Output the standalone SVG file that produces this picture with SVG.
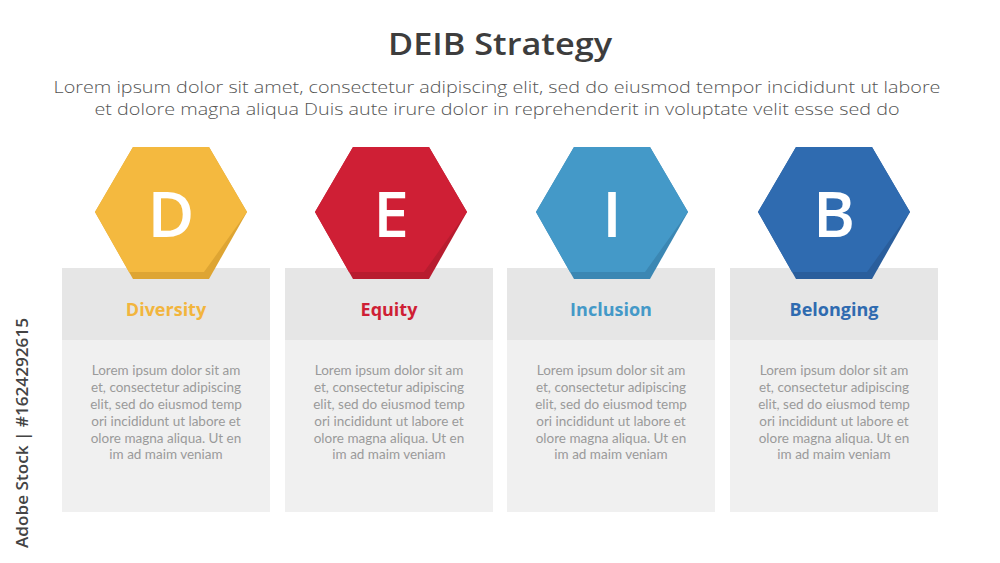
<svg xmlns="http://www.w3.org/2000/svg" width="1000" height="563" viewBox="0 0 1000 563">
<style>
.title{font-family:"Open Sans","Liberation Sans",sans-serif;font-weight:600;font-size:30px;fill:#3d3d3d;text-anchor:middle}
.sub{font-family:"Open Sans","Liberation Sans",sans-serif;font-weight:300;font-size:17px;fill:#555555;text-anchor:middle}
.letter{font-family:"Open Sans","Liberation Sans",sans-serif;font-weight:600;font-size:64px;fill:#ffffff;text-anchor:middle}
.head{font-family:"Open Sans","Liberation Sans",sans-serif;font-weight:700;font-size:18px;text-anchor:middle}
.body{font-family:Lato,"Liberation Sans",sans-serif;font-weight:400;font-size:13.5px;fill:#9a9a9a;text-anchor:middle}
.hb{fill:#e6e6e6}
.bb{fill:#f0f0f0}
.wm{font-family:"Open Sans","Liberation Sans",sans-serif;font-size:16px;fill:#444;font-weight:600}
</style>
<defs>
<polygon id="hexS" points="-38,-66 38,-66 76,-1 38,66 -38,66 -76,-1"/>
<polygon id="hexF" points="-38,-66 38,-66 76,-1 33,59 -42,59 -76,-1"/>
</defs>
<rect width="1000" height="563" fill="#ffffff"/>
<text class="title" x="500" y="55" textLength="224" lengthAdjust="spacingAndGlyphs">DEIB Strategy</text>
<text class="sub" x="497" y="93" textLength="887" lengthAdjust="spacingAndGlyphs">Lorem ipsum dolor sit amet, consectetur adipiscing elit, sed do eiusmod tempor incididunt ut labore</text>
<text class="sub" x="497" y="115" textLength="805" lengthAdjust="spacingAndGlyphs">et dolore magna aliqua Duis aute irure dolor in reprehenderit in voluptate velit esse sed do</text>
<text class="wm" transform="translate(28,548) rotate(-90)" textLength="230" lengthAdjust="spacingAndGlyphs">Adobe Stock | #1624292615</text>
<g id="connectors"></g>
<g id="node-d">
<rect class="bb" x="62" y="268" width="208" height="244"/>
<rect class="hb" x="62" y="268" width="208" height="72"/>
<g transform="translate(171,213)"><use href="#hexS" fill="#dea533"/><use href="#hexF" fill="#f4b93f"/></g>
<text class="letter" x="171" y="237">D</text>
<text class="head" x="166" y="316" fill="#f2b53d">Diversity</text>
<text class="body" x="166" y="375">Lorem ipsum dolor sit am</text>
<text class="body" x="166" y="392">et, consectetur adipiscing</text>
<text class="body" x="166" y="409">elit, sed do eiusmod temp</text>
<text class="body" x="166" y="426">ori incididunt ut labore et</text>
<text class="body" x="166" y="443">olore magna aliqua. Ut en</text>
<text class="body" x="166" y="459">im ad maim veniam</text>
</g>
<g id="node-e">
<rect class="bb" x="285" y="268" width="208" height="244"/>
<rect class="hb" x="285" y="268" width="208" height="72"/>
<g transform="translate(391,213)"><use href="#hexS" fill="#b81c2f"/><use href="#hexF" fill="#cf1f35"/></g>
<text class="letter" x="391" y="237">E</text>
<text class="head" x="389" y="316" fill="#cf1f35">Equity</text>
<text class="body" x="389" y="375">Lorem ipsum dolor sit am</text>
<text class="body" x="389" y="392">et, consectetur adipiscing</text>
<text class="body" x="389" y="409">elit, sed do eiusmod temp</text>
<text class="body" x="389" y="426">ori incididunt ut labore et</text>
<text class="body" x="389" y="443">olore magna aliqua. Ut en</text>
<text class="body" x="389" y="459">im ad maim veniam</text>
</g>
<g id="node-i">
<rect class="bb" x="507" y="268" width="208" height="244"/>
<rect class="hb" x="507" y="268" width="208" height="72"/>
<g transform="translate(612,213)"><use href="#hexS" fill="#3b87b3"/><use href="#hexF" fill="#4499c8"/></g>
<text class="letter" x="612" y="237">I</text>
<text class="head" x="611" y="316" fill="#4499c8">Inclusion</text>
<text class="body" x="611" y="375">Lorem ipsum dolor sit am</text>
<text class="body" x="611" y="392">et, consectetur adipiscing</text>
<text class="body" x="611" y="409">elit, sed do eiusmod temp</text>
<text class="body" x="611" y="426">ori incididunt ut labore et</text>
<text class="body" x="611" y="443">olore magna aliqua. Ut en</text>
<text class="body" x="611" y="459">im ad maim veniam</text>
</g>
<g id="node-b">
<rect class="bb" x="730" y="268" width="208" height="244"/>
<rect class="hb" x="730" y="268" width="208" height="72"/>
<g transform="translate(834,213)"><use href="#hexS" fill="#2a5e9c"/><use href="#hexF" fill="#2f6bb0"/></g>
<text class="letter" x="834" y="237">B</text>
<text class="head" x="834" y="316" fill="#2f6bb0">Belonging</text>
<text class="body" x="834" y="375">Lorem ipsum dolor sit am</text>
<text class="body" x="834" y="392">et, consectetur adipiscing</text>
<text class="body" x="834" y="409">elit, sed do eiusmod temp</text>
<text class="body" x="834" y="426">ori incididunt ut labore et</text>
<text class="body" x="834" y="443">olore magna aliqua. Ut en</text>
<text class="body" x="834" y="459">im ad maim veniam</text>
</g>
</svg>
